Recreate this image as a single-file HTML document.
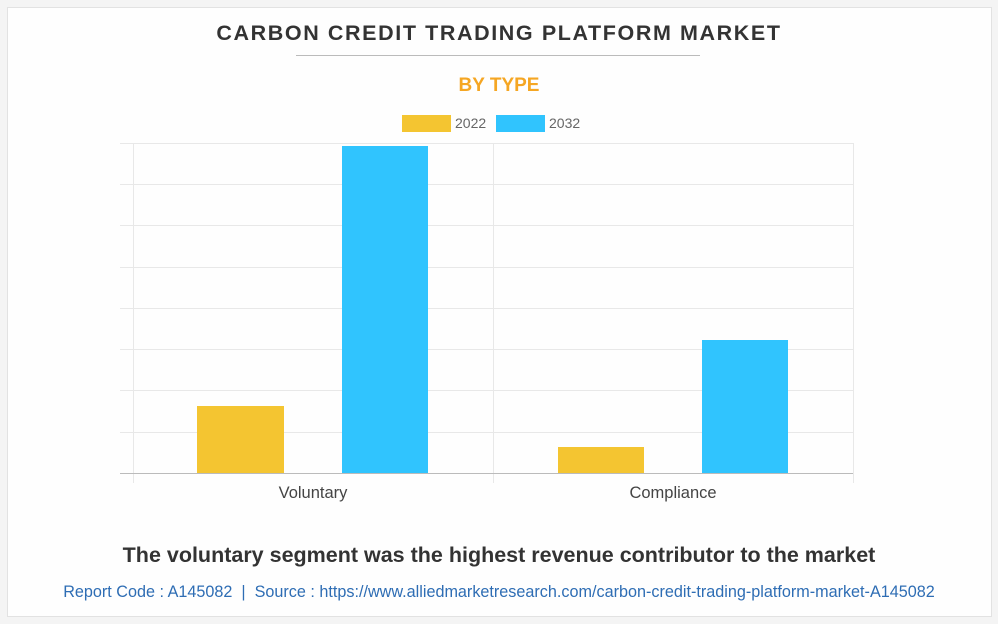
<!DOCTYPE html>
<html><head><style>
body{margin:0;width:998px;height:624px;background:#f4f4f4;font-family:"Liberation Sans",Arial,sans-serif;overflow:hidden}
.card{position:absolute;left:7px;top:7px;width:983px;height:608px;background:#fefefe;border:1px solid #e2e2e2}
.t{position:absolute;width:998px;text-align:center;left:0}
</style></head><body>
<div class="card"></div>
<div class="t" style="top:21px;font-size:21.5px;font-weight:bold;color:#333;letter-spacing:1.6px">CARBON CREDIT TRADING PLATFORM MARKET</div>
<div style="position:absolute;left:296px;top:55px;width:404px;height:1px;background:#bbb"></div>
<div class="t" style="top:75px;font-size:19px;font-weight:bold;color:#f5a623">BY TYPE</div>
<svg style="position:absolute;left:0;top:0" width="998" height="624">
<rect x="402" y="115" width="49" height="17" fill="#f4c531"/>
<text x="455" y="128" font-size="14" fill="#666" font-family="Liberation Sans">2022</text>
<rect x="496" y="115" width="49" height="17" fill="#30c4fe"/>
<text x="549" y="128" font-size="14" fill="#666" font-family="Liberation Sans">2032</text>
<g stroke="#e8e8e8" stroke-width="1">
<line x1="120" x2="853" y1="143.5" y2="143.5"/><line x1="120" x2="853" y1="184.5" y2="184.5"/>
<line x1="120" x2="853" y1="225.5" y2="225.5"/><line x1="120" x2="853" y1="267.5" y2="267.5"/>
<line x1="120" x2="853" y1="308.5" y2="308.5"/><line x1="120" x2="853" y1="349.5" y2="349.5"/>
<line x1="120" x2="853" y1="390.5" y2="390.5"/><line x1="120" x2="853" y1="432.5" y2="432.5"/>
<line x1="133.5" x2="133.5" y1="143" y2="483"/><line x1="493.5" x2="493.5" y1="143" y2="483"/>
<line x1="853.5" x2="853.5" y1="143" y2="483"/>
</g>
<rect x="197" y="406" width="87" height="67" fill="#f4c531"/>
<rect x="342" y="146" width="86" height="327" fill="#30c4fe"/>
<rect x="558" y="447" width="86" height="26" fill="#f4c531"/>
<rect x="702" y="340" width="86" height="133" fill="#30c4fe"/>
<line x1="120" x2="853" y1="473.5" y2="473.5" stroke="#bbb"/>
<text x="313" y="498" font-size="16.5" fill="#444" text-anchor="middle" font-family="Liberation Sans">Voluntary</text>
<text x="673" y="498" font-size="16.5" fill="#444" text-anchor="middle" font-family="Liberation Sans">Compliance</text>
</svg>
<div class="t" style="top:543px;font-size:21.5px;font-weight:bold;color:#333">The voluntary segment was the highest revenue contributor to the market</div>
<div class="t" style="top:583px;font-size:16.2px;color:#2e6db4">Report Code : A145082 &nbsp;| &nbsp;Source : https://www.alliedmarketresearch.com/carbon-credit-trading-platform-market-A145082</div>
</body></html>
